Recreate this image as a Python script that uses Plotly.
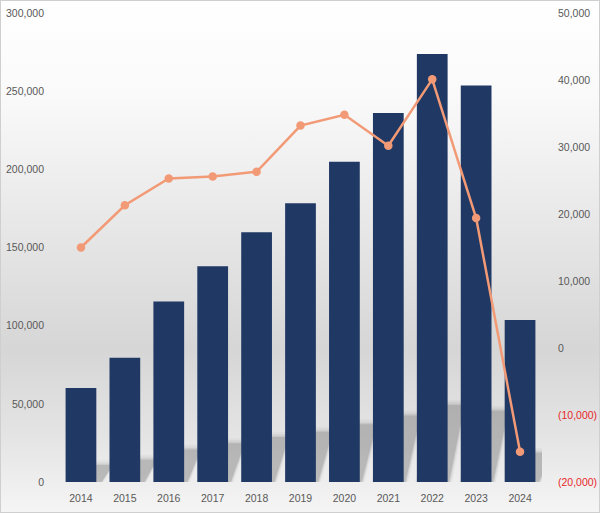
import base64
import plotly.graph_objects as go

# ---- data ----
years = [2014, 2015, 2016, 2017, 2018, 2019, 2020, 2021, 2022, 2023, 2024]
bar_values = [60200, 79400, 115500, 138000, 159700, 178300, 204800, 236000, 273700, 253600, 103600]
line_values = [15000, 21300, 25300, 25600, 26300, 33200, 34800, 30200, 40100, 19400, -15500]
left_ticks = [0, 50000, 100000, 150000, 200000, 250000, 300000]
right_ticks = [-20000, -10000, 0, 10000, 20000, 30000, 40000, 50000]

# ---- style ----
BAR_COLOR = "#1f3864"
LINE_COLOR = "#f29a76"
TEXT_COLOR = "#595959"
NEG_COLOR = "#e8262b"
FONT = "Liberation Sans"
BAR_W = 0.7

ML, MR, MT, MB = 59, 58, 13, 31
W, H = 600, 513
PW, PH = W - ML - MR, H - MT - MB

def fmt(v):
    s = f"{abs(v):,}"
    if v < 0:
        return f'<span style="color:{NEG_COLOR}">({s})</span>'
    return s

right_text = [fmt(v) for v in right_ticks]

# background gradient (svg) with border
svg = f'''<svg xmlns="http://www.w3.org/2000/svg" width="{W}" height="{H}" viewBox="0 0 {W} {H}" preserveAspectRatio="none">
<defs><linearGradient id="g" x1="0" y1="0" x2="0" y2="1">
<stop offset="0" stop-color="#ffffff"/>
<stop offset="0.18" stop-color="#fafafa"/>
<stop offset="0.68" stop-color="#d6d6d6"/>
<stop offset="0.85" stop-color="#e4e4e4"/>
<stop offset="1" stop-color="#f5f5f5"/>
</linearGradient></defs>
<rect width="{W}" height="{H}" fill="url(#g)"/>
<rect x="0.5" y="0.5" width="{W-1}" height="{H-1}" fill="none" stroke="#cfcfcf" stroke-width="1"/>
</svg>'''
src = "data:image/svg+xml;base64," + base64.b64encode(svg.encode()).decode()

fig = go.Figure()
fig.add_trace(go.Bar(x=years, y=bar_values, marker=dict(color=BAR_COLOR, line=dict(width=0)),
                     width=BAR_W, yaxis="y", hoverinfo="skip"))
fig.add_trace(go.Scatter(x=years, y=line_values, mode="lines+markers", yaxis="y2",
                         line=dict(color=LINE_COLOR, width=2.5),
                         marker=dict(color=LINE_COLOR, size=8.5), hoverinfo="skip"))

# perspective shadows of bars (derived from bar values, in data coordinates)
SH_K = 0.18          # vertical scale of shadow relative to bar height
SH_T = 0.38          # horizontal skew of shadow top (x units)
shapes = []
blur_layers = [(0.0, 0.0, 0.14), (0.02, 900, 0.08), (0.045, 2000, 0.05), (0.07, 3200, 0.035)]
for x, v in zip(years, bar_values):
    top = SH_K * v
    for ex, ey, op in blur_layers:
        x0 = x - BAR_W / 2 - ex
        x1 = x + BAR_W / 2 + ex
        path = (f"M {x0},-5000 L {x1},-5000 L {x1 + SH_T},{top + ey} "
                f"L {x0 + SH_T},{top + ey} Z")
        shapes.append(dict(type="path", path=path, xref="x", yref="y",
                           fillcolor=f"rgba(55,55,55,{op})", line=dict(width=0),
                           layer="below"))

fig.update_layout(
    width=W, height=H,
    margin=dict(l=ML, r=MR, t=MT, b=MB, pad=0, autoexpand=False),
    paper_bgcolor="white",
    plot_bgcolor="rgba(0,0,0,0)",
    showlegend=False,
    font=dict(family=FONT, size=10.5, color=TEXT_COLOR),
    xaxis=dict(range=[2013.5, 2024.5], tickvals=years, tickformat="d",
               showgrid=False, zeroline=False, showline=False, ticks="",
               ticklabelstandoff=8, automargin=False),
    yaxis=dict(range=[0, 300000], tickvals=left_ticks, tickformat=",d",
               showgrid=False, zeroline=False, showline=False, ticks="",
               ticklabelstandoff=14, automargin=False),
    yaxis2=dict(range=[-20000, 50000], tickvals=right_ticks, ticktext=right_text,
                overlaying="y", side="right", showgrid=False, zeroline=False,
                showline=False, ticks="", ticklabelstandoff=15, automargin=False),
    images=[dict(source=src, xref="paper", yref="paper",
                 x=-ML / PW, y=1 + MT / PH, sizex=W / PW, sizey=H / PH,
                 xanchor="left", yanchor="top", sizing="stretch", layer="below")],
    shapes=shapes,
)

fig.write_html("out.html")
